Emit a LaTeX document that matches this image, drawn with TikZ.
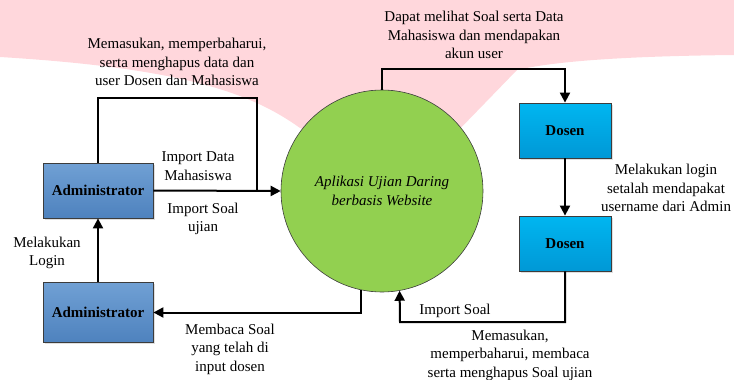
\documentclass[tikz,border=0pt]{standalone}
\usepackage{fontspec}
\setmainfont{Liberation Serif}
\usetikzlibrary{positioning, arrows.meta, shadows}

\definecolor{wmpink}{RGB}{255,215,220}
\definecolor{admintop}{RGB}{112,160,212}
\definecolor{adminbot}{RGB}{78,130,190}
\definecolor{dosentop}{RGB}{0,182,240}
\definecolor{dosenbot}{RGB}{0,152,214}
\definecolor{appgreen}{RGB}{146,208,80}
\definecolor{edgegray}{RGB}{60,60,60}

\tikzset{
    entity/.style={rectangle, draw=edgegray, line width=0.8pt, top color=admintop, bottom color=adminbot,
        minimum width=110pt, minimum height=55pt, font=\fontsize{15}{18}\selectfont\bfseries,
        drop shadow={opacity=0.25, shadow xshift=1.5pt, shadow yshift=-1.5pt}},
    lecturer/.style={entity, top color=dosentop, bottom color=dosenbot, minimum width=92pt},
    process/.style={circle, draw=edgegray, line width=0.6pt, fill=appgreen, minimum size=202pt, inner sep=0pt,
        align=center, font=\fontsize{15}{18.5}\selectfont\itshape},
    flowlabel/.style={align=center, inner sep=0pt, font=\fontsize{15}{18.5}\selectfont},
    line/.style={draw, line width=2pt},
    flow/.style={line, -{Triangle[length=10pt,width=10pt]}}
}

\begin{document}
\begin{tikzpicture}[x=1pt, y=-1pt, node distance=2cm, on grid]
    \useasboundingbox (0,0) rectangle (734,380);
    % watermark behind the diagram
    \fill[wmpink] (0,0) -- (734,0) -- (734,55) .. controls (640,56) and (560,60) .. (517,70)
        -- (420,170) -- (300,128) .. controls (250,92) and (180,68) .. (0,57) -- cycle;

    \node[entity] (admin) at (98,190.5) {Administrator};
    \node[entity, minimum height=60pt] (admin2) [below=122pt of admin] {Administrator};
    \node[process] (app) at (382,191) {Aplikasi Ujian Daring\\berbasis Website};
    \node[lecturer] (dosen) at (565,130.5) {Dosen};
    \node[lecturer] (dosen2) [below=113pt of dosen] {Dosen};

    \coordinate (adminloop) at (257,98);
    \coordinate (adminjoin) at (257,191);
    \coordinate (dosenup) at (565,69);
    \coordinate (soalturn) at (400,322);

    \draw[line] (admin.north) |- (adminloop) -- (adminjoin);
    \draw[flow] (admin.east) -- (app.west);
    \draw[flow] (admin2.north) -- (admin.south);
    \draw[flow] (app.258) |- (admin2.east);
    \draw[flow] (app.north) |- (dosenup) -- (dosen.north);
    \draw[flow] (dosen.south) -- (dosen2.north);
    \draw[flow] (dosen2.south) |- (soalturn) -- (app.280);

    \node[flowlabel] (lblcrud) at (177,62) {Memasukan, memperbaharui,\\serta menghapus data dan\\user Dosen dan Mahasiswa};
    \node[flowlabel] (lblview) at (474,35) {Dapat melihat Soal serta Data\\Mahasiswa dan mendapakan\\akun user};
    \node[flowlabel] (lblimpmhs) at (198,166) {Import Data\\Mahasiswa};
    \node[flowlabel] (lblimpsoal) at (203,219) {Import Soal\\ujian};
    \node[flowlabel] (lbllogin) at (47,253) {Melakukan\\Login};
    \node[flowlabel] (lblread) at (230,349) {Membaca Soal\\yang telah di\\input dosen};
    \node[flowlabel] (lblsoal) at (455,311) {Import Soal};
    \node[flowlabel] (lblsoalcrud) at (510,355) {Memasukan,\\memperbaharui, membaca\\serta menghapus Soal ujian};
    \node[flowlabel] (lbldosenlogin) at (666,188) {Melakukan login\\setalah mendapakat\\username dari Admin};
\end{tikzpicture}
\end{document}
